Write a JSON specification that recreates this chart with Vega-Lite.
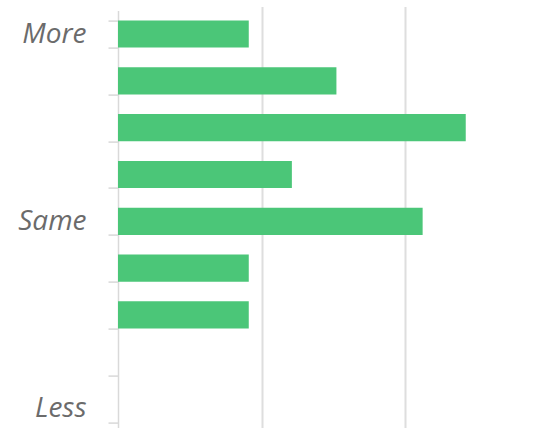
{
  "$schema": "https://vega.github.io/schema/vega-lite/v6.json",
  "autosize": "none",
  "width": 416,
  "height": 417.4,
  "padding": {"left": 118, "top": 10.6, "right": 0, "bottom": 0},
  "background": "white",
  "config": {"view": {"stroke": null}},
  "data": {
    "values": [
      {"level": "1", "pct": 9.1},
      {"level": "2", "pct": 15.2},
      {"level": "3", "pct": 24.2},
      {"level": "4", "pct": 12.1},
      {"level": "5", "pct": 21.2},
      {"level": "6", "pct": 9.1},
      {"level": "7", "pct": 9.1},
      {"level": "8", "pct": 0},
      {"level": "9", "pct": 0}
    ]
  },
  "mark": {"type": "bar", "color": "#4BC678"},
  "encoding": {
    "y": {
      "field": "level",
      "type": "nominal",
      "sort": null,
      "scale": {"paddingInner": 0.42, "paddingOuter": 0.21, "range": [0, 421.4]},
      "axis": {
        "title": null,
        "tickBand": "extent",
        "domainColor": "#d9d9d9",
        "domainWidth": 1.5,
        "tickColor": "#d9d9d9",
        "tickWidth": 1.5,
        "tickSize": 10,
        "labelPadding": 22,
        "labelFont": "Open Sans",
        "labelFontStyle": "italic",
        "labelFontSize": 28,
        "labelColor": "#6b6b6b",
        "labelExpr": "datum.value == '1' ? 'More' : datum.value == '5' ? 'Same' : datum.value == '9' ? 'Less' : ''"
      }
    },
    "x": {
      "field": "pct",
      "type": "quantitative",
      "scale": {"domain": [0, 28.95]},
      "axis": {
        "title": null,
        "labels": false,
        "ticks": false,
        "domain": false,
        "values": [10, 20],
        "grid": true,
        "gridColor": "#dedede",
        "gridWidth": 2
      }
    }
  }
}
